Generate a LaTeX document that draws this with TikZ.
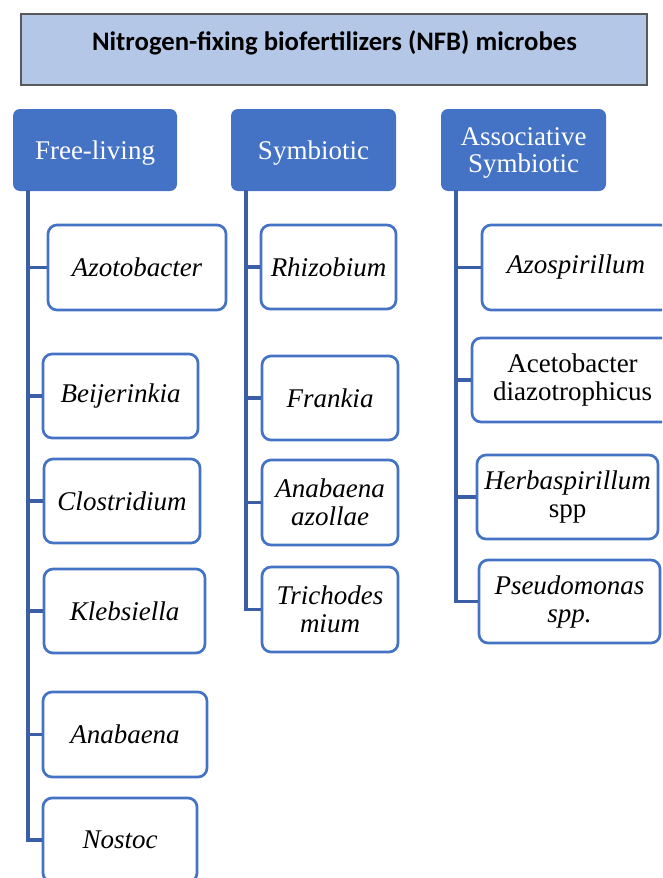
\documentclass[tikz,border=0pt]{standalone}
\usepackage{fontspec}
\setmainfont{Liberation Serif}
\newfontfamily\titlefont{Carlito}
\definecolor{hdrblue}{HTML}{4472C4}
\definecolor{connblue}{HTML}{3A5FA6}
\definecolor{titlefill}{HTML}{B4C7E7}
\definecolor{titleline}{HTML}{595959}
\tikzset{
  titlebox/.style={draw=titleline, line width=1.8pt, fill=titlefill, inner sep=0pt},
  hdrbox/.style={fill=hdrblue, rounded corners=7pt, text=white, align=center, inner sep=0pt,
    text depth=0pt, font=\fontsize{27}{27}\selectfont},
  itembox/.style={draw=hdrblue, line width=2.7pt, fill=white, rounded corners=9pt, align=center,
    inner sep=0pt, font=\fontsize{27}{28}\selectfont},
  conn/.style={draw=connblue, line width=3.2pt},
}
\begin{document}
\begin{tikzpicture}[x=1pt,y=1pt]
\useasboundingbox (0,0) rectangle (662,-878);
\clip (0,0) rectangle (662,-878);
% title
\node[titlebox, minimum width=626, minimum height=71] (title) at (334,-49.5) {};
\node[font=\titlefont\bfseries\fontsize{26.7}{28}\selectfont, inner sep=0pt] (titletext) at (334.5,-43) {Nitrogen-fixing biofertilizers (NFB) microbes};
% headers
\node[hdrbox, minimum width=164, minimum height=82] (fl) at (95,-150) {Free-living};
\node[hdrbox, minimum width=165, minimum height=82] (sym) at (313.5,-150) {Symbiotic};
\node[hdrbox, minimum width=165, minimum height=82] (asc) at (523.5,-150) {Associative\\Symbiotic};
% trunk tops
\coordinate (flt) at (28,-190);
\coordinate (symt) at (246,-190);
\coordinate (asct) at (456,-190);
% free-living items
\node[itembox, minimum width=178, minimum height=85] (azo) at (137,-267.5) {\itshape Azotobacter};
\node[itembox, minimum width=155, minimum height=84] (bei) at (120.5,-396) {\itshape Beijerinkia};
\node[itembox, minimum width=156, minimum height=84] (clo) at (122,-501) {\itshape Clostridium};
\node[itembox, minimum width=161, minimum height=84] (kle) at (124.5,-611) {\itshape Klebsiella};
\node[itembox, minimum width=164, minimum height=85] (ana) at (125,-734.5) {\itshape Anabaena};
\node[itembox, minimum width=154, minimum height=84] (nos) at (120,-840) {\itshape Nostoc};
% symbiotic items
\node[itembox, minimum width=135, minimum height=84] (rhi) at (328.5,-267) {\itshape Rhizobium};
\node[itembox, minimum width=136, minimum height=84] (fra) at (330,-398) {\itshape Frankia};
\node[itembox, minimum width=136, minimum height=85] (aza) at (330,-502.5) {\itshape Anabaena\\\itshape azollae};
\node[itembox, minimum width=136, minimum height=85] (tri) at (330,-609.5) {\itshape Trichodes\\\itshape mium};
% associative items
\node[itembox, minimum width=188, minimum height=85] (azs) at (576,-267.5) {\itshape Azospirillum};
\node[itembox, minimum width=201, minimum height=84] (ace) at (572.5,-380) {Acetobacter\\diazotrophicus};
\node[itembox, minimum width=181, minimum height=84] (her) at (567.5,-497) {\itshape Herbaspirillum\\spp};
\node[itembox, minimum width=181, minimum height=83] (pse) at (569.5,-601.5) {\itshape Pseudomonas\\\itshape spp.};
% connectors
\foreach \c in {azo,bei,clo,kle,ana,nos} \draw[conn] (flt) |- (\c.west);
\foreach \c in {rhi,fra,aza,tri} \draw[conn] (symt) |- (\c.west);
\foreach \c in {azs,ace,her,pse} \draw[conn] (asct) |- (\c.west);
\end{tikzpicture}
\end{document}
